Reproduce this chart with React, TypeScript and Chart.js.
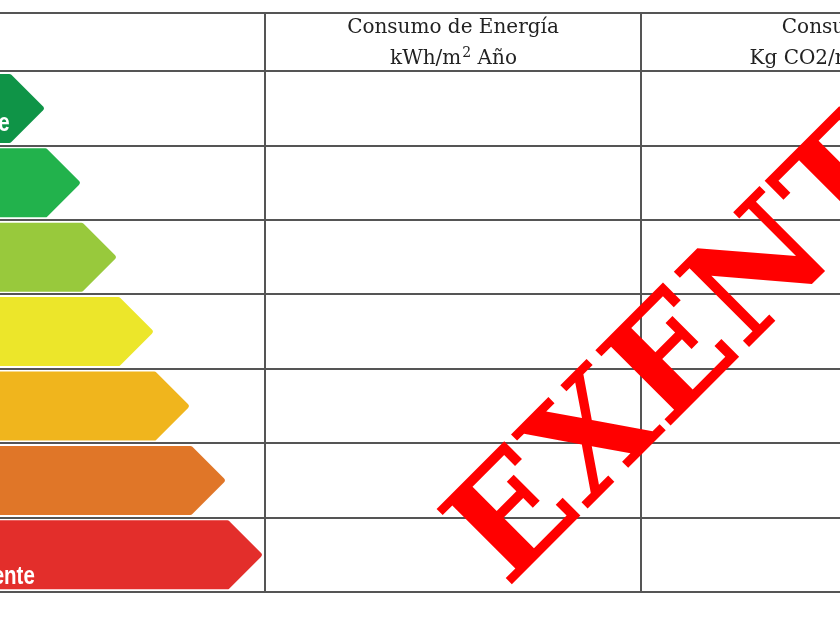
import React, { useEffect, useRef } from 'react';
import { Chart, registerables } from 'chart.js';

Chart.register(...registerables);

// ---- data ----
const energyClasses = ['A', 'B', 'C', 'D', 'E', 'F', 'G'];
const rowPositions = [1, 2, 3, 4, 5, 6, 7];
const arrowTips = [45, 81, 117, 154, 190, 226, 263];
const arrowBase = -130;
const arrowColors = ['#0f9447', '#22b24c', '#98c93c', '#ece62a', '#f0b51d', '#e07628', '#e32e2b'];
const arrowTexts = ['Más eficiente', '', '', '', '', '', 'Menos eficiente'];
const arrowTextX = -119;
const columnEdges = [265, 641, 1017];
const rowEdges = [-0.283, 0.5, 1.5, 2.5, 3.5, 4.5, 5.5, 6.5, 7.5];
const headerTitles = ['Consumo de Energía', 'Consumo'];
const headerUnitBase = ['kWh/m', 'Kg CO2/m'];
const headerUnitSup = ['2', '2'];
const headerUnitTail = [' Año', ' Año'];
const stampText = 'EXENTO';
const stampAnchor = { x: 507, y: 7.46 };

const tablePlugin = {
  id: 'energyTable',
  afterDatasetsDraw(chart: any) {
    const ctx = chart.ctx;
    const meta = chart.getDatasetMeta(0);
    const xs = chart.scales.x;
    meta.data.forEach((el: any, i: number) => {
      const p = el.getProps(['x', 'y', 'base', 'height'], true);
      const tip = Math.max(p.x, p.base);
      const left = Math.min(p.x, p.base);
      const y = p.y;
      const h = p.height;
      const top = y - h / 2;
      const bottom = y + h / 2;
      const tipStart = tip - h / 2;
      const r = 3;
      ctx.save();
      ctx.fillStyle = arrowColors[i];
      ctx.beginPath();
      ctx.moveTo(left, top);
      ctx.arcTo(tipStart, top, tip, y, r);
      ctx.arcTo(tip, y, tipStart, bottom, r);
      ctx.arcTo(tipStart, bottom, left, bottom, r);
      ctx.lineTo(left, bottom);
      ctx.closePath();
      ctx.fill();
      if (arrowTexts[i]) {
        ctx.fillStyle = '#ffffff';
        ctx.font = 'bold 25px "Liberation Sans", Arial, sans-serif';
        ctx.textAlign = 'left';
        ctx.textBaseline = 'alphabetic';
        const dy = i === 0 ? 23 : 29;
        ctx.translate(xs.getPixelForValue(arrowTextX), y + dy);
        ctx.scale(0.82, 1);
        ctx.fillText(arrowTexts[i], 0, 0);
      }
      ctx.restore();
    });
  },
  afterDraw(chart: any) {
    const ctx = chart.ctx;
    const xs = chart.scales.x;
    const ys = chart.scales.y;
    const headTop = ys.getPixelForValue(rowEdges[0]);
    ctx.save();
    ctx.fillStyle = '#222222';
    ctx.textBaseline = 'alphabetic';
    headerTitles.forEach((title, i) => {
      const cx = (xs.getPixelForValue(columnEdges[i]) + xs.getPixelForValue(columnEdges[i + 1])) / 2;
      ctx.font = '20px "DejaVu Serif"';
      ctx.textAlign = 'center';
      ctx.fillText(title, cx, headTop + 20);
      ctx.textAlign = 'left';
      ctx.font = '20px "DejaVu Serif"';
      const w1 = ctx.measureText(headerUnitBase[i]).width;
      const w3 = ctx.measureText(headerUnitTail[i]).width;
      ctx.font = '14px "DejaVu Serif"';
      const w2 = ctx.measureText(headerUnitSup[i]).width;
      const start = cx - (w1 + w2 + w3) / 2;
      const bl = headTop + 51;
      ctx.font = '20px "DejaVu Serif"';
      ctx.fillText(headerUnitBase[i], start, bl);
      ctx.font = '14px "DejaVu Serif"';
      ctx.fillText(headerUnitSup[i], start + w1 + 1, bl - 7);
      ctx.font = '20px "DejaVu Serif"';
      ctx.fillText(headerUnitTail[i], start + w1 + w2 + 1, bl);
    });
    ctx.restore();

    // stamp
    ctx.save();
    ctx.translate(xs.getPixelForValue(stampAnchor.x), ys.getPixelForValue(stampAnchor.y));
    ctx.rotate(-Math.PI / 4);
    ctx.fillStyle = '#ff0000';
    ctx.font = 'bold 146px "DejaVu Serif"';
    ctx.textAlign = 'left';
    ctx.textBaseline = 'alphabetic';
    ctx.fillText(stampText, 0, 0);
    ctx.restore();
  },
};

export default function App() {
  const ref = useRef<HTMLCanvasElement | null>(null);
  useEffect(() => {
    if (!ref.current) return;
    const gridStyle = { color: '#555555', lineWidth: 2, drawTicks: false, offset: false };
    const chart = new Chart(ref.current, {
      type: 'bar',
      data: {
        labels: energyClasses,
        datasets: [
          {
            label: 'Clase energética',
            data: rowPositions.map((r, i) => ({ y: r, x: [arrowBase, arrowTips[i]] })) as any,
            backgroundColor: 'rgba(0,0,0,0)',
            borderWidth: 0,
            barThickness: 69,
          },
        ],
      },
      options: {
        indexAxis: 'y',
        animation: false,
        responsive: true,
        maintainAspectRatio: false,
        events: [],
        layout: { padding: { top: 13, bottom: 38, left: 0, right: 0 } },
        plugins: { legend: { display: false }, tooltip: { enabled: false } },
        scales: {
          x: {
            type: 'linear',
            min: 0,
            max: 840,
            offset: false,
            afterBuildTicks: (scale: any) => {
              scale.ticks = columnEdges.map((v) => ({ value: v }));
            },
            ticks: { display: false },
            grid: gridStyle,
            border: { display: false },
          },
          y: {
            type: 'linear',
            reverse: true,
            offset: false,
            min: rowEdges[0],
            max: rowEdges[rowEdges.length - 1],
            afterBuildTicks: (scale: any) => {
              scale.ticks = rowEdges.map((v) => ({ value: v }));
            },
            ticks: { display: false },
            grid: gridStyle,
            border: { display: false },
          },
        },
      } as any,
      plugins: [tablePlugin],
    });
    return () => chart.destroy();
  }, []);
  return (
    <div style={{ position: 'fixed', left: 0, top: 0, width: 840, height: 630, background: '#fff' }}>
      <canvas ref={ref} />
    </div>
  );
}
